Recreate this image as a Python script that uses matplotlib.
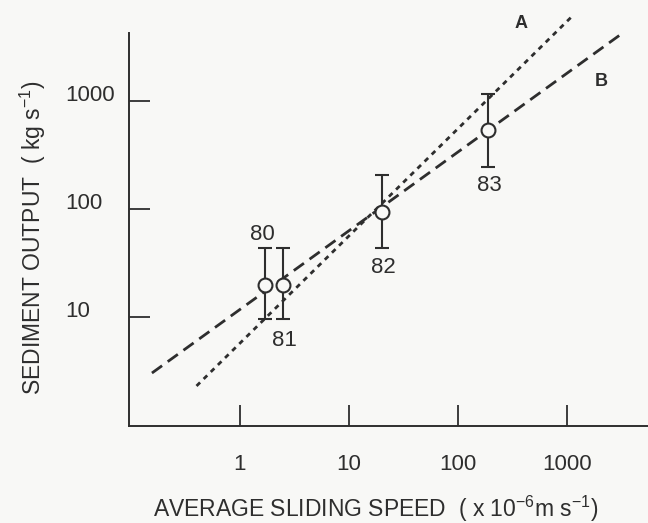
import numpy as np
import matplotlib
matplotlib.use("Agg")
import matplotlib.pyplot as plt

plt.rcParams['font.family'] = ['Liberation Sans', 'DejaVu Sans']
plt.rcParams['mathtext.fontset'] = 'custom'
plt.rcParams['mathtext.rm'] = 'Liberation Sans'
plt.rcParams['mathtext.it'] = 'Liberation Sans:italic'

# data
years = ['80', '81', '82', '83']
speed = [1.7, 2.5, 20, 190]
output = [20, 20, 94, 540]
err_low = [9.6, 9.6, 44, 245]
err_high = [44, 44, 206, 1150]
label_side = ['above', 'below', 'below', 'below']

# fitted lines A (dotted) and B (dashed)
line_a_x = [0.4, 1100]
line_a_y = [2.3, 6000]
line_b_x = [0.156, 3060]
line_b_y = [3.03, 4080]

ticks = [1, 10, 100, 1000]
tick_labels = ['1', '10', '100', '1000']

ink = '#2e2e2e'
bg = '#f8f8f6'

fig = plt.figure(figsize=(6.48, 5.23), dpi=100, facecolor=bg)
ax = fig.add_axes([0.199, 0.1855, 0.801, 0.7514])
ax.set_facecolor(bg)
ax.set_xscale('log')
ax.set_yscale('log')
ax.set_xlim(0.096, 5540)
ax.set_ylim(0.98, 4260)

# fitted lines
ax.plot(line_a_x, line_a_y, color=ink, lw=2.0, linestyle=(0, (1.8, 1.8)), clip_on=False)
ax.plot(line_b_x, line_b_y, color=ink, lw=2.0, linestyle=(0, (4.5, 2.5)), clip_on=False)

# data with error bars
yerr = [np.array(output) - np.array(err_low), np.array(err_high) - np.array(output)]
ax.errorbar(speed, output, yerr=yerr, fmt='o', ms=10, mfc=bg, mec=ink, mew=1.5,
            ecolor=ink, elinewidth=1.5, capsize=5, capthick=1.5, zorder=3)

for x, y, t, side in zip(speed, output, years, label_side):
    dy = 36 if side == 'above' else -40
    ax.annotate(t, (x, y), xytext=(-2 if side == 'above' else 1, dy),
                textcoords='offset points', ha='center', va='center',
                fontsize=16, color=ink)

ax.text(378, 5270, 'A', fontsize=13, fontweight='bold', color=ink,
        ha='center', va='center')
ax.text(2050, 1530, 'B', fontsize=13, fontweight='bold', color=ink,
        ha='center', va='center')

# axes styling
for s in ['top', 'right']:
    ax.spines[s].set_visible(False)
for s in ['left', 'bottom']:
    ax.spines[s].set_linewidth(1.4)
    ax.spines[s].set_color(ink)

ax.set_xticks(ticks)
ax.set_xticklabels(tick_labels)
ax.set_yticks(ticks[1:])
ax.set_yticklabels(tick_labels[1:])
ax.minorticks_off()
ax.tick_params(axis='both', direction='in', length=15, width=1.3, color=ink,
               labelsize=16, labelcolor=ink)
ax.tick_params(axis='x', pad=20)
ax.tick_params(axis='y', pad=46)
plt.setp(ax.get_yticklabels(), ha='left', va='baseline')

ax.set_xlabel(r'AVERAGE SLIDING SPEED  ( x 10$^{\mathregular{-6}}$m s$^{\mathregular{-1}}$)',
              fontsize=16.5, color=ink)
ax.xaxis.set_label_coords(0.476, -0.172)
ax.set_ylabel(r'SEDIMENT OUTPUT  ( kg s$^{\mathregular{-1}}$)', fontsize=16.5, color=ink)
ax.yaxis.set_label_coords(-0.155, 0.478)

fig.savefig('out.png', dpi=100, facecolor=bg)
